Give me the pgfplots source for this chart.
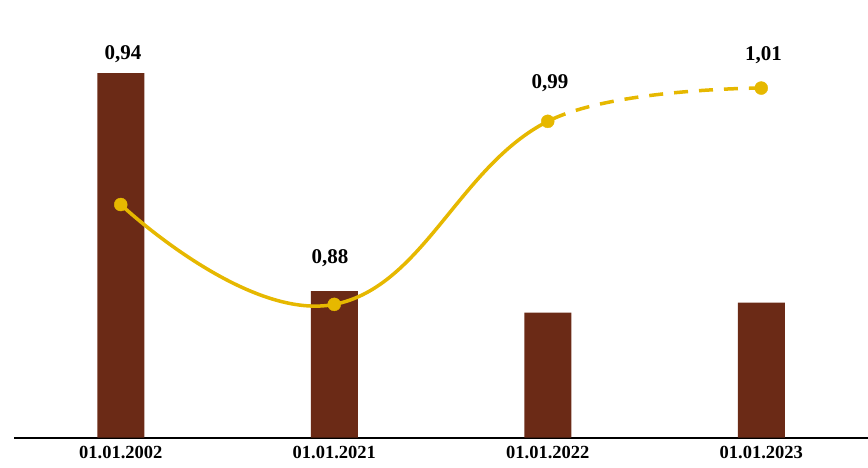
\documentclass[border=0pt]{standalone}
\usepackage{pgfplots}
\pgfplotsset{compat=1.18}
\usepackage{fontspec}
\setmainfont{Liberation Serif}
\definecolor{barc}{RGB}{107,42,22}
\definecolor{linec}{RGB}{230,184,0}
\begin{document}
\begin{tikzpicture}[x=1pt,y=1pt]
\useasboundingbox (0,0) rectangle (868,467);
\begin{axis}[
  at={(14pt,29.5pt)}, anchor=south west,
  scale only axis, width=854pt, height=416pt,
  xmin=-0.5, xmax=3.5, ymin=0.80, ymax=1.05,
  axis x line=bottom, axis y line=none,
  x axis line style={-, line width=2pt, black},
  xtick={0,1,2,3},
  xticklabels={01.01.2002,01.01.2021,01.01.2022,01.01.2023},
  major tick length=0pt,
  xticklabel style={font=\fontsize{18.5}{20}\selectfont\bfseries, yshift=-5pt},
  ytick=\empty,
]
\addplot[ybar, bar width=47pt, fill=barc, draw=none] coordinates {(0,1.019) (1,0.888) (2,0.875) (3,0.881)};
\begin{scope}
\clip (axis cs:-0.5,0.80) rectangle (axis cs:2,1.05);
\addplot[linec, line width=3.5pt, smooth, tension=0.75] coordinates {(0,0.94) (1,0.88) (2,0.99) (3,1.01)};
\end{scope}
\begin{scope}
\clip (axis cs:2,0.80) rectangle (axis cs:3.5,1.05);
\addplot[linec, line width=3.5pt, smooth, tension=0.55, dash pattern=on 14pt off 11pt, dash phase=-4pt] coordinates {(0,0.94) (1,0.88) (2,0.99) (3,1.01)};
\end{scope}
\addplot[only marks, mark=*, mark size=6.5pt, linec] coordinates {(0,0.94) (1,0.88) (2,0.99) (3,1.01)};
\node[font=\fontsize{21}{23}\selectfont\bfseries] at (axis cs:0.01,1.0305) {0,94};
\node[font=\fontsize{21}{23}\selectfont\bfseries] at (axis cs:0.98,0.9079) {0,88};
\node[font=\fontsize{21}{23}\selectfont\bfseries] at (axis cs:2.01,1.013) {0,99};
\node[font=\fontsize{21}{23}\selectfont\bfseries] at (axis cs:3.01,1.0299) {1,01};
\end{axis}
\end{tikzpicture}
\end{document}
